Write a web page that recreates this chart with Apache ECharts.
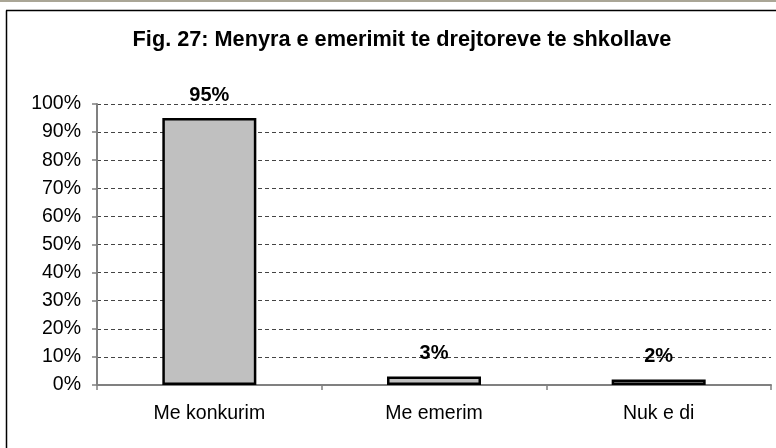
<!DOCTYPE html>
<html><head><meta charset="utf-8">
<script src="https://cdn.jsdelivr.net/npm/echarts@6/dist/echarts.min.js"></script>
<style>html,body{margin:0;padding:0;background:#fff}#c{width:776px;height:448px}</style>
</head><body><div id="c"></div>
<script>
var titleText = 'Fig. 27: Menyra e emerimit te drejtoreve te shkollave';
var categories = ['Me konkurim', 'Me emerim', 'Nuk e di'];
var values = [95, 3, 2];
var yTicks = [0, 10, 20, 30, 40, 50, 60, 70, 80, 90, 100];

var chart = echarts.init(document.getElementById('c'), null, {renderer: 'canvas'});
var font = '"Liberation Sans", Arial, sans-serif';
chart.setOption({
  animation: false,
  backgroundColor: '#fff',
  title: {
    text: titleText,
    left: 397, top: 24, textAlign: 'center',
    textStyle: {fontFamily: font, fontSize: 21.7, fontWeight: 'bold', color: '#000'}
  },
  graphic: [
    {type: 'rect', shape: {x: 0, y: 0, width: 776, height: 2}, style: {fill: '#aaa696'}, silent: true},
    {type: 'line', shape: {x1: 6.5, y1: 10.5, x2: 6.5, y2: 448}, style: {stroke: '#000', lineWidth: 1.5}, silent: true},
    {type: 'line', shape: {x1: 6, y1: 10.5, x2: 776, y2: 10.5}, style: {stroke: '#000', lineWidth: 1.5}, silent: true}
  ],
  grid: {left: 97, right: 5, top: 104, bottom: 63},
  xAxis: {
    type: 'category', data: categories,
    axisLine: {lineStyle: {color: '#808080', width: 2}},
    axisTick: {show: true, length: 5, lineStyle: {color: '#808080', width: 1.5}},
    axisLabel: {fontFamily: font, fontSize: 19.5, color: '#000', margin: 19}
  },
  yAxis: {
    type: 'value', min: yTicks[0], max: yTicks[yTicks.length - 1], interval: 10,
    axisLine: {show: true, lineStyle: {color: '#808080', width: 2}},
    axisTick: {show: true, length: 5, lineStyle: {color: '#808080', width: 1.5}},
    axisLabel: {fontFamily: font, fontSize: 19.5, color: '#000', margin: 16, formatter: '{value}%'},
    splitLine: {show: true, lineStyle: {color: '#444', width: 1, type: [4, 3]}}
  },
  series: [{
    type: 'bar', data: values, barWidth: 94,
    itemStyle: {color: '#c0c0c0', borderColor: '#000', borderWidth: 2.5},
    label: {show: true, position: 'top', distance: 13, formatter: '{c}%',
      fontFamily: font, fontSize: 20, fontWeight: 'bold', color: '#000'}
  }]
});
</script></body></html>
